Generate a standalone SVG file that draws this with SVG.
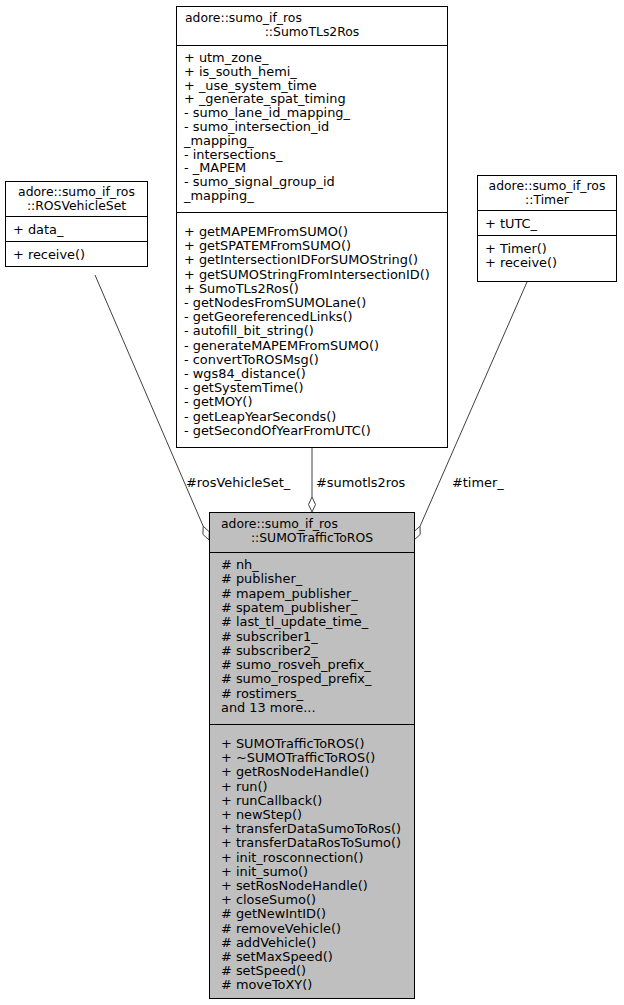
<svg xmlns="http://www.w3.org/2000/svg" width="624" height="1005" viewBox="0 0 624 1005">
<style>
text{font-family:"DejaVu Sans",sans-serif;font-size:12.9px;fill:#000}
.t{font-size:12.4px}
.box{fill:#fff;stroke:#000;stroke-width:1}
.main{fill:#bfbfbf;stroke:#000;stroke-width:1}
.ln{stroke:#000;stroke-width:1}
.e{stroke:#404040;stroke-width:1;fill:none}
.d{fill:#fff;stroke:#404040;stroke-width:1}
.c{text-anchor:middle}
</style>
<rect width="624" height="1005" fill="#fff"/>
<g id="connectors">
<path class="e" d="M95,275 L203.2,526.2"/>
<polygon class="d" points="209,540 202.9,534.4 203.2,526.2 209.3,531.8"/>
<text x="186" y="487">#rosVehicleSet_</text>
<path class="e" d="M312,447 L312,497"/>
<polygon class="d" points="312,512 308.5,504.5 312,497 315.5,504.5"/>
<text x="316" y="487">#sumotls2ros</text>
<path class="e" d="M527,282 L420,526.3"/>
<polygon class="d" points="414,540 413.8,531.7 420,526.3 420.2,534.5"/>
<text x="452" y="487">#timer_</text>
</g>
<g id="SumoTLs2Ros">
<rect class="box" x="176.5" y="6.5" width="271" height="441"/>
<text class="t" x="185" y="22">adore::sumo_if_ros</text>
<text class="t c" x="312" y="36">::SumoTLs2Ros</text>
<line class="ln" x1="176.5" y1="45.5" x2="447.5" y2="45.5"/>
<text x="184" y="62">+ utm_zone_</text>
<text x="184" y="75.8">+ is_south_hemi_</text>
<text x="184" y="89.6">+ _use_system_time</text>
<text x="184" y="103.4">+ _generate_spat_timing</text>
<text x="184" y="117.2">- sumo_lane_id_mapping_</text>
<text x="184" y="131">- sumo_intersection_id</text>
<text x="184" y="144.8">_mapping_</text>
<text x="184" y="158.6">- intersections_</text>
<text x="184" y="172.4">- _MAPEM</text>
<text x="184" y="186.2">- sumo_signal_group_id</text>
<text x="184" y="200">_mapping_</text>
<line class="ln" x1="176.5" y1="212.5" x2="447.5" y2="212.5"/>
<text x="184" y="236">+ getMAPEMFromSUMO()</text>
<text x="184" y="250.2">+ getSPATEMFromSUMO()</text>
<text x="184" y="264.4">+ getIntersectionIDForSUMOString()</text>
<text x="184" y="278.6">+ getSUMOStringFromIntersectionID()</text>
<text x="184" y="292.8">+ SumoTLs2Ros()</text>
<text x="184" y="307">- getNodesFromSUMOLane()</text>
<text x="184" y="321.2">- getGeoreferencedLinks()</text>
<text x="184" y="335.4">- autofill_bit_string()</text>
<text x="184" y="349.6">- generateMAPEMFromSUMO()</text>
<text x="184" y="363.8">- convertToROSMsg()</text>
<text x="184" y="378">- wgs84_distance()</text>
<text x="184" y="392.2">- getSystemTime()</text>
<text x="184" y="406.4">- getMOY()</text>
<text x="184" y="420.6">- getLeapYearSeconds()</text>
<text x="184" y="434.8">- getSecondOfYearFromUTC()</text>
</g>
<g id="ROSVehicleSet">
<rect class="box" x="5.5" y="181.5" width="142" height="85"/>
<text class="t c" x="76.5" y="196">adore::sumo_if_ros</text>
<text class="t c" x="76.5" y="210">::ROSVehicleSet</text>
<line class="ln" x1="5.5" y1="216.5" x2="147.5" y2="216.5"/>
<text x="13" y="234">+ data_</text>
<line class="ln" x1="5.5" y1="241.5" x2="147.5" y2="241.5"/>
<text x="13" y="259">+ receive()</text>
</g>
<g id="Timer">
<rect class="box" x="477.5" y="175.5" width="139" height="106"/>
<text class="t c" x="547" y="190">adore::sumo_if_ros</text>
<text class="t c" x="547" y="204">::Timer</text>
<line class="ln" x1="477.5" y1="210.5" x2="616.5" y2="210.5"/>
<text x="485" y="228">+ tUTC_</text>
<line class="ln" x1="477.5" y1="235.5" x2="616.5" y2="235.5"/>
<text x="485" y="253">+ Timer()</text>
<text x="485" y="267">+ receive()</text>
</g>
<g id="SUMOTrafficToROS">
<rect class="main" x="209.5" y="512.5" width="205" height="486"/>
<text class="t" x="221" y="528">adore::sumo_if_ros</text>
<text class="t c" x="312" y="542">::SUMOTrafficToROS</text>
<line class="ln" x1="209.5" y1="552.5" x2="414.5" y2="552.5"/>
<text x="221" y="569"># nh_</text>
<text x="221" y="583.3"># publisher_</text>
<text x="221" y="597.6"># mapem_publisher_</text>
<text x="221" y="611.9"># spatem_publisher_</text>
<text x="221" y="626.2"># last_tl_update_time_</text>
<text x="221" y="640.5"># subscriber1_</text>
<text x="221" y="654.8"># subscriber2_</text>
<text x="221" y="669.1"># sumo_rosveh_prefix_</text>
<text x="221" y="683.4"># sumo_rosped_prefix_</text>
<text x="221" y="697.7"># rostimers_</text>
<text x="221" y="712">and 13 more...</text>
<line class="ln" x1="209.5" y1="724.5" x2="414.5" y2="724.5"/>
<text x="221" y="748">+ SUMOTrafficToROS()</text>
<text x="221" y="762.2">+ ~SUMOTrafficToROS()</text>
<text x="221" y="776.4">+ getRosNodeHandle()</text>
<text x="221" y="790.6">+ run()</text>
<text x="221" y="804.8">+ runCallback()</text>
<text x="221" y="819">+ newStep()</text>
<text x="221" y="833.2">+ transferDataSumoToRos()</text>
<text x="221" y="847.4">+ transferDataRosToSumo()</text>
<text x="221" y="861.6">+ init_rosconnection()</text>
<text x="221" y="875.8">+ init_sumo()</text>
<text x="221" y="890">+ setRosNodeHandle()</text>
<text x="221" y="904.2">+ closeSumo()</text>
<text x="221" y="918.4"># getNewIntID()</text>
<text x="221" y="932.6"># removeVehicle()</text>
<text x="221" y="946.8"># addVehicle()</text>
<text x="221" y="961"># setMaxSpeed()</text>
<text x="221" y="975.2"># setSpeed()</text>
<text x="221" y="989.4"># moveToXY()</text>
</g>
</svg>
